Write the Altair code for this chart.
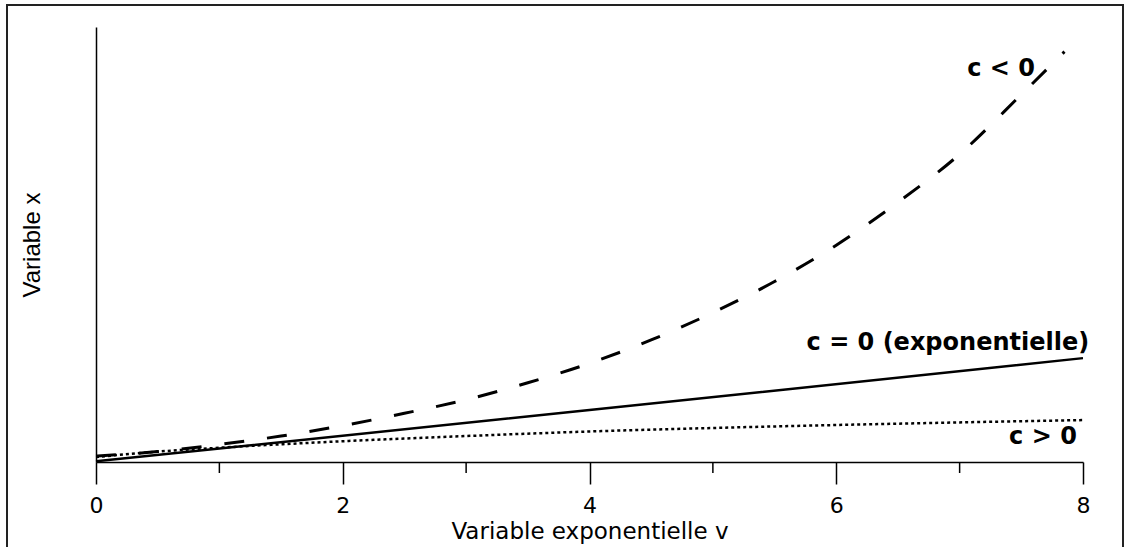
import altair as alt
import pandas as pd

# Exponential variable v (x axis) and the variable x for the three cases of c
v_dashed = [0, 0.5, 1.0, 1.5, 2.0, 2.5, 3.0, 3.5, 4.0, 4.5, 5.0, 5.5, 6.0, 6.5, 7.0, 7.5, 7.85]
x_dashed = [0.46, 0.8, 1.35, 2.0, 2.8, 3.75, 4.8, 6.1, 7.6, 9.4, 11.5, 13.9, 16.7, 20.0, 23.7, 28.3, 31.6]

v_solid = [0, 4, 8]
x_solid = [0.05, 4.0, 8.0]

v_dotted = [0, 0.5, 1, 2, 3, 4, 5, 6, 7, 8]
x_dotted = [0.38, 0.8, 1.1, 1.6, 2.0, 2.35, 2.62, 2.85, 3.05, 3.23]

major_ticks = [0, 2, 4, 6, 8]
minor_ticks = [1, 3, 5, 7]

label_text = ["c < 0", "c = 0 (exponentielle)", "c > 0"]
label_v = [7.61, 8.05, 7.95]
label_x = [30.3, 9.15, 1.92]

W, H = 987, 435
FONT_H = "DejaVu Sans"

x_scale = alt.Scale(domain=[0, 8], nice=False, zero=False)
y_scale = alt.Scale(domain=[0, 33.5], nice=False, zero=False)

x_axis = alt.Axis(
    values=major_ticks, format="d", tickSize=22, tickWidth=1.5, tickColor="black",
    domainColor="black", domainWidth=1.5, grid=False,
    labelFont=FONT_H, labelFontSize=22, labelColor="black", labelPadding=11,
    labelFlush=False,
    title="Variable exponentielle v", titleFont=FONT_H, titleFontSize=23,
    titleFontWeight="normal", titleColor="black", titlePadding=4,
)
y_axis = alt.Axis(
    ticks=False, labels=False, grid=False, domainColor="black", domainWidth=1.5,
    title="Variable x", titleFont="Liberation Sans", titleFontSize=24,
    titleFontWeight="normal", titleColor="black", titlePadding=52,
)

dashed_df = pd.DataFrame({"v": v_dashed, "x": x_dashed})
solid_df = pd.DataFrame({"v": v_solid, "x": x_solid})
dotted_df = pd.DataFrame({"v": v_dotted, "x": x_dotted})
minor_df = pd.DataFrame({"v": minor_ticks})
labels_df = pd.DataFrame({"v": label_v, "x": label_x, "label": label_text})

base_x = alt.X("v:Q", scale=x_scale, axis=x_axis)
base_y = alt.Y("x:Q", scale=y_scale, axis=y_axis)

dashed = alt.Chart(dashed_df).mark_line(
    color="black", strokeWidth=3, strokeDash=[20, 23], interpolate="monotone"
).encode(x=base_x, y=base_y)

solid = alt.Chart(solid_df).mark_line(color="black", strokeWidth=2.5).encode(
    x=alt.X("v:Q", scale=x_scale), y=alt.Y("x:Q", scale=y_scale)
)

dotted = alt.Chart(dotted_df).mark_line(
    color="black", strokeWidth=2.5, strokeDash=[3, 3], interpolate="monotone"
).encode(x=alt.X("v:Q", scale=x_scale), y=alt.Y("x:Q", scale=y_scale))

minor = alt.Chart(minor_df).mark_rule(color="black", strokeWidth=1.5).encode(
    x=alt.X("v:Q", scale=x_scale), y=alt.value(H), y2=alt.value(H + 11)
)

labels = alt.Chart(labels_df).mark_text(
    align="right", baseline="middle", font=FONT_H, fontSize=24,
    fontWeight="bold", color="black"
).encode(x=alt.X("v:Q", scale=x_scale), y=alt.Y("x:Q", scale=y_scale), text="label:N")

# outer frame around the figure
frame = alt.Chart(pd.DataFrame({"k": [0]})).mark_rect(
    fill=None, stroke="#222222", strokeWidth=2
).encode(
    x=alt.value(-89), x2=alt.value(1027), y=alt.value(-22), y2=alt.value(525)
)

chart = alt.layer(frame, dashed, solid, dotted, minor, labels).properties(
    width=W, height=H,
    padding={"left": 96, "top": 27, "right": 47, "bottom": 85},
    autosize=alt.AutoSizeParams(type="none"),
    background="white",
).configure_view(stroke=None)

chart.save("out.html", embed_options={"renderer": "svg", "actions": False})
